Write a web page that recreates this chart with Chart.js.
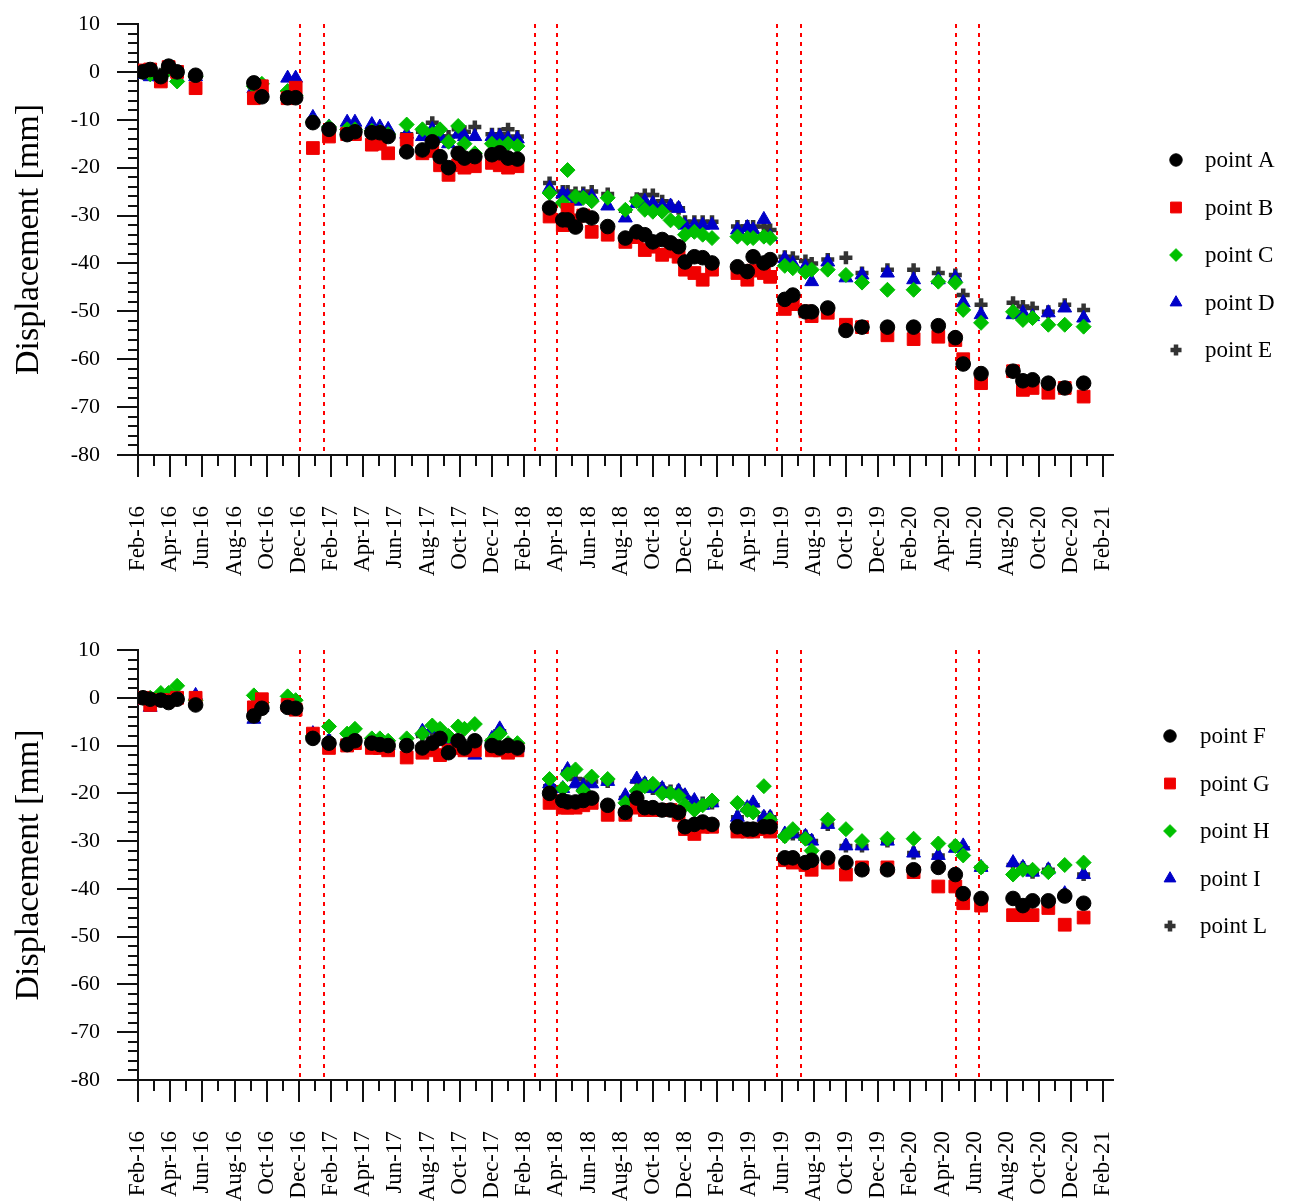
<!DOCTYPE html>
<html>
<head>
<meta charset="utf-8">
<title>Displacement time series</title>
<script src="https://cdn.jsdelivr.net/npm/chart.js@4/dist/chart.umd.min.js"></script>
<style>
  html, body { margin: 0; padding: 0; background: #ffffff; }
  .panel { position: relative; width: 1307px; }
  canvas { display: block; }
</style>
</head>
<body>
<div class="panel" style="height:600px"><canvas id="panelTop" width="1307" height="600"></canvas></div>
<div class="panel" style="height:601px"><canvas id="panelBottom" width="1307" height="601"></canvas></div>
<script>
// ---- survey epochs (shared by both panels) ----
const surveyDates = [
  '2016-02-10','2016-02-23','2016-03-14','2016-03-29','2016-04-14','2016-05-19',
  '2016-09-07','2016-09-22','2016-11-10','2016-11-25',
  '2016-12-28','2017-01-28','2017-03-01','2017-03-16','2017-04-17','2017-05-02','2017-05-18',
  '2017-06-22','2017-07-22','2017-08-10','2017-08-25','2017-09-10','2017-09-28','2017-10-10','2017-10-30',
  '2017-12-01','2017-12-16','2018-01-01','2018-01-19',
  '2018-03-19','2018-04-13','2018-04-22','2018-05-07','2018-05-22','2018-06-07','2018-07-07',
  '2018-08-10','2018-09-01','2018-09-16','2018-10-01','2018-10-19','2018-11-04','2018-11-19',
  '2018-12-01','2018-12-19','2019-01-04','2019-01-22',
  '2019-03-09','2019-03-28','2019-04-08','2019-04-28','2019-05-10',
  '2019-06-07','2019-06-22','2019-07-16','2019-07-28','2019-08-28','2019-10-01','2019-11-01','2019-12-19',
  '2020-02-07','2020-03-24','2020-04-25','2020-05-10','2020-06-13',
  '2020-08-13','2020-09-01','2020-09-19','2020-10-19','2020-11-19','2020-12-25'
];

// ---- upper panel: displacement [mm] ----
const pointA = [0,0.5,-1,1.2,0,-0.7, -2.3,-5.2,-5.4,-5.4, -10.6,-12,-13.1,-12.5,-12.7,-12.7,-13.5,
  -16.7,-16.3,-14.6,-17.7,-20,-17,-18,-17.7, -17.3,-16.9,-18,-18.2, -28.4,-30.9,-30.9,-32.4,-29.9,-30.5,-32.3,
  -34.7,-33.4,-34,-35.5,-35,-35.7,-36.5, -39.7,-38.6,-38.8,-39.9, -40.7,-41.7,-38.6,-39.9,-39.2,
  -47.5,-46.6,-50.1,-50.1,-49.3,-54,-53.3,-53.3, -53.3,-53,-55.5,-61,-63, -62.5,-64.5,-64.3,-65,-66,-65];
const pointB = [0.3,0.5,-2,1,0,-3.4, -5.5,-3,-5.5,-3.3, -15.9,-13.5,-13,-13,-15.2,-15,-17,
  -14.2,-17,-16.5,-19.5,-21.5,-19.5,-20,-19.7, -19,-19.5,-20,-19.7, -30.2,-32,-28.8,-31,-30,-33.4,-34,
  -35.5,-34.5,-37.2,-36.5,-38.2,-37.5,-38.6, -41.3,-42,-43.4,-41.3, -42,-43.4,-41.5,-42,-42.8,
  -49.5,-48.5,-50,-51,-50.3,-52.8,-53.3,-55, -55.8,-55.3,-56,-60,-65, -62.5,-66.4,-66,-67,-66,-67.8];
const pointC = [0,-0.5,-1,0.5,-2,-1, -3,-2.5,-4,-5, -10.5,-11.5,-12,-12,-12.3,-12.5,-13,
  -11,-12,-13,-12,-14.6,-11.3,-15,-17, -15,-15.5,-15,-15.5, -25.3,-27.3,-20.5,-26,-26.3,-27,-26.3,
  -28.8,-27,-28.8,-29.2,-29.2,-31,-31.3, -34,-33.4,-34,-34.7, -34.4,-34.7,-34.7,-34.4,-34.7,
  -40.5,-41,-41.8,-41.3,-41.3,-42.4,-44,-45.5, -45.5,-43.8,-44,-49.7,-52.4, -50.1,-51.8,-51.4,-52.8,-52.8,-53.2];
const pointD = [-0.5,-1,-1.2,0.5,-1.2,-1, -3.5,-4,-1.3,-1.3, -9.5,-11.5,-10.5,-10.5,-11,-11.5,-12,
  -13,-13.5,-12,-13.5,-15,-13,-13.5,-13.5, -13.5,-13.5,-14,-14, -24.3,-25.5,-26,-27,-26,-26,-28,
  -30.5,-27.5,-27,-27.5,-28,-28,-28.5, -32,-32,-32,-32, -33,-32.5,-33,-30.8,-34.4,
  -39,-40,-40.7,-43.8,-39.7,-43,-42.4,-42, -43.4,-43.4,-43,-48.2,-50.7, -50.7,-50.3,-51.1,-50.3,-49.3,-51.4];
const pointE = [0,0,-0.5,1,-0.5,-1, -3,-4.5,-4.5,-5, -10.5,-12,-12,-12,-12.5,-12.5,-13,
  -13,-12.5,-10.6,-13.5,-13.5,-12,-12.5,-11.5, -13,-13,-12,-13.5, -23.2,-25,-25,-25.3,-25.3,-25,-25.5,
  -29,-26.5,-25.7,-25.7,-27,-28,-28.5, -31.3,-31.3,-31.3,-31.3, -32.3,-32.3,-32.3,-32.3,-33,
  -38.6,-38.8,-39.5,-40,-39.2,-38.8,-42,-41.3, -41.3,-42,-42.4,-46.6,-48.6, -48.2,-49,-49.3,-50.1,-48.6,-49.7];

// ---- lower panel: displacement [mm] ----
const pointF = [0,-0.3,-0.5,-1,-0.3,-1.5, -3.8,-2.2,-2,-2.2, -8.5,-9.5,-9.8,-9,-9.5,-9.8,-10,
  -10,-10.5,-9.5,-8.5,-11.5,-9,-10.5,-9, -10,-10.5,-10,-10.5, -20,-21.5,-21.8,-21.8,-21.5,-21,-22.5,
  -24,-21,-23,-23,-23.5,-23.5,-24, -27,-26.5,-26,-26.5, -27,-27.5,-27.5,-27,-27,
  -33.5,-33.5,-34.5,-34,-33.5,-34.5,-36,-36, -36,-35.5,-37,-41,-42, -42,-43.5,-42.5,-42.5,-41.5,-43];
const pointG = [0,-1.5,-0.5,-0.5,0,0, -2,-0.3,-1.5,-2.5, -7.5,-10.5,-10,-9.5,-10.5,-10.5,-11,
  -12.5,-11.5,-11,-12,-11,-10.5,-11,-11, -11,-11,-11.5,-11, -22,-23,-23,-23,-22.5,-22,-24.5,
  -24.5,-23,-23.5,-23.5,-23.5,-23.5,-24.5, -27.5,-28.5,-27,-27, -28,-28,-28,-27.5,-28,
  -34,-34.5,-35,-36,-34.5,-37,-35.5,-35.5, -36.5,-39.5,-39.5,-43,-43.5, -45.5,-45.5,-45.5,-44,-47.5,-46];
const pointH = [0,0,1,1,2.5,-0.5, 0.5,-1,0.3,-0.5, -8,-6,-7.5,-6.5,-8.5,-8.5,-9,
  -8.5,-7.5,-5.8,-6.5,-8,-6,-6.5,-5.5, -9,-7.5,-9.5,-9.5, -17,-19,-16,-15,-19.5,-16.5,-17,
  -22,-19.5,-18.5,-18,-20,-20,-20.5, -22.5,-23.5,-22.5,-21.5, -22,-23.5,-24,-18.5,-25.5,
  -29,-27.5,-29.5,-32,-25.5,-27.5,-30,-29.5, -29.5,-30.5,-31,-33,-35.5, -37,-36,-36,-36.5,-35,-34.5];
const pointI = [-0.5,-2,0.5,0.5,0.5,0.5, -4.5,-2,-1,-1.5, -7.5,-9,-9,-8.5,-9,-9,-10,
  -9,-7,-6.5,-8,-10,-9.5,-11,-12, -8.5,-6.5,-10,-10.5, -18,-19,-15,-18,-18.5,-18,-17.5,
  -20.5,-17,-18,-19,-19,-20,-19.5, -20.5,-21.5,-22.5,-22, -25,-23,-22,-25,-25,
  -28.5,-28.5,-29,-30,-26.5,-31,-31,-30, -32.5,-33,-31.5,-31,-35.5, -34.5,-35.5,-36.5,-36,-41,-37];
const pointL = [0,-1,0,0,0.5,0, -3.5,-2,-1.5,-2, -8,-9,-9,-8.5,-9,-9.5,-10,
  -9.5,-8,-7,-8,-9.5,-9,-10,-10, -9,-7,-10,-10, -18.5,-19,-15.5,-17,-18,-17.5,-17.5,
  -21,-17.5,-18,-19,-19,-19.5,-19.5, -21,-22,-22,-22, -25,-23.5,-22.5,-25,-25,
  -29,-28.5,-29,-30,-26.5,-31,-31,-30, -32.5,-33,-31,-31.5,-35.5, -35,-35.5,-36.5,-36,-41.5,-37];

// dates of the dotted reference lines
const eventDates = ['2016-12-04','2017-01-18','2018-02-20','2018-04-03',
                    '2019-05-24','2019-07-08','2020-04-26','2020-06-10'];

// axis labels
const xTickLabels = ['Feb-16','Apr-16','Jun-16','Aug-16','Oct-16','Dec-16',
  'Feb-17','Apr-17','Jun-17','Aug-17','Oct-17','Dec-17',
  'Feb-18','Apr-18','Jun-18','Aug-18','Oct-18','Dec-18',
  'Feb-19','Apr-19','Jun-19','Aug-19','Oct-19','Dec-19',
  'Feb-20','Apr-20','Jun-20','Aug-20','Oct-20','Dec-20','Feb-21'];
const yAxisTitle = 'Displacement [mm]';
const upperNames = ['point A','point B','point C','point D','point E'];
const lowerNames = ['point F','point G','point H','point I','point L'];

// ---- helpers ----
const SERIF = "'Liberation Serif', 'Times New Roman', 'DejaVu Serif', serif";
const Y_MIN = -80, Y_MAX = 10;
const X_MIN = 0, X_MAX = 60.6, LAST_MONTH = 60;

// months elapsed since 1 Feb 2016 (fractional)
function monthIndex(iso) {
  const [y, m, d] = iso.split('-').map(Number);
  const days = new Date(y, m, 0).getDate();
  return (y - 2016) * 12 + (m - 2) + (d - 1) / days;
}

const markerStyles = [
  { pointStyle: 'circle',   radius: 7.3, color: '#000000', borderWidth: 1 },
  { pointStyle: 'rect',     radius: 9,   color: '#f00000', borderWidth: 1 },
  { pointStyle: 'rectRot',  radius: 7.5, color: '#00c000', borderWidth: 1 },
  { pointStyle: 'triangle', radius: 8,   color: '#0000c8', borderWidth: 1 },
  { pointStyle: 'cross',    radius: 6.5, color: '#333333', borderWidth: 4.5 }
];

const axisTicks = {
  id: 'axisTicks',
  afterDraw(chart) {
    const { ctx, chartArea, scales: { x, y } } = chart;
    ctx.save();
    ctx.strokeStyle = '#111111';
    ctx.lineWidth = 2;
    ctx.beginPath();
    for (let v = Y_MIN; v <= Y_MAX; v += 2) {
      const py = Math.round(y.getPixelForValue(v));
      const len = v % 10 === 0 ? 21 : 10;
      ctx.moveTo(chartArea.left - len, py);
      ctx.lineTo(chartArea.left, py);
    }
    for (let m = 0; m <= LAST_MONTH; m++) {
      const px = Math.round(x.getPixelForValue(m));
      const len = m % 2 === 0 ? 22 : 11;
      ctx.moveTo(px, chartArea.bottom);
      ctx.lineTo(px, chartArea.bottom + len);
    }
    ctx.stroke();
    ctx.restore();
  }
};

const eventLines = {
  id: 'eventLines',
  beforeDatasetsDraw(chart) {
    const { ctx, chartArea, scales: { x } } = chart;
    ctx.save();
    ctx.strokeStyle = '#ff0000';
    ctx.lineWidth = 2;
    ctx.setLineDash([4, 5]);
    eventDates.forEach(d => {
      const px = Math.round(x.getPixelForValue(monthIndex(d)));
      ctx.beginPath();
      ctx.moveTo(px, chartArea.top);
      ctx.lineTo(px, chartArea.bottom);
      ctx.stroke();
    });
    ctx.restore();
  }
};

const sideLegend = {
  id: 'sideLegend',
  afterDraw(chart, args, opts) {
    const { ctx } = chart;
    ctx.save();
    ctx.font = opts.fontSize + 'px ' + SERIF;
    ctx.textBaseline = 'middle';
    ctx.textAlign = 'left';
    chart.data.datasets.forEach((ds, i) => {
      const st = markerStyles[i];
      const cy = opts.y + i * opts.step;
      ctx.fillStyle = st.color;
      ctx.strokeStyle = st.color;
      ctx.lineWidth = st.borderWidth;
      Chart.helpers.drawPoint(ctx, {
        pointStyle: st.pointStyle, radius: st.radius * 0.85,
        rotation: 0, borderWidth: st.borderWidth
      }, opts.markerX, cy);
      ctx.fillStyle = '#000000';
      ctx.fillText(ds.label, opts.textX, cy + 1);
    });
    ctx.restore();
  }
};

function buildPanel(canvasId, names, series, frame) {
  const datasets = series.map((vals, i) => {
    const st = markerStyles[i];
    return {
      label: names[i],
      data: surveyDates.map((d, k) => ({ x: monthIndex(d), y: vals[k] })),
      showLine: false,
      pointStyle: st.pointStyle,
      pointRadius: st.radius,
      pointHoverRadius: st.radius,
      backgroundColor: st.color,
      borderColor: st.color,
      pointBorderWidth: st.borderWidth,
      borderWidth: st.borderWidth
    };
  });

  return new Chart(document.getElementById(canvasId), {
    type: 'scatter',
    data: { datasets },
    plugins: [eventLines, axisTicks, sideLegend],
    options: {
      responsive: false,
      animation: false,
      devicePixelRatio: 1,
      layout: { padding: { left: 0, right: frame.right, top: frame.top, bottom: 0 } },
      plugins: {
        legend: { display: false },
        tooltip: { enabled: false },
        sideLegend: frame.legend
      },
      scales: {
        x: {
          type: 'linear',
          min: X_MIN,
          max: X_MAX,
          afterBuildTicks(scale) {
            scale.ticks = Array.from({ length: LAST_MONTH + 1 }, (_, m) => ({ value: m }));
          },
          afterFit(scale) {
            scale.height = frame.axisHeight;
            scale.paddingLeft = 0;
            scale.paddingRight = 0;
          },
          ticks: {
            autoSkip: false,
            minRotation: 90,
            maxRotation: 90,
            padding: 51,
            color: '#000000',
            font: { family: SERIF, size: 23 },
            callback: v => (v % 2 === 0 ? xTickLabels[v / 2] : '')
          },
          grid: { drawOnChartArea: false, drawTicks: false, color: 'rgba(0,0,0,0)' },
          border: { display: true, color: '#111111', width: 2 }
        },
        y: {
          min: Y_MIN,
          max: Y_MAX,
          afterFit(scale) {
            scale.width = 138;
            scale.paddingTop = 0;
            scale.paddingBottom = 0;
          },
          ticks: {
            stepSize: 10,
            padding: 38,
            color: '#000000',
            font: { family: SERIF, size: 22 }
          },
          title: {
            display: true,
            text: yAxisTitle,
            color: '#000000',
            font: { family: SERIF, size: 34 },
            padding: { top: 9, bottom: 0 }
          },
          grid: { drawOnChartArea: false, drawTicks: false, color: 'rgba(0,0,0,0)' },
          border: { display: true, color: '#111111', width: 2 }
        }
      }
    }
  });
}

buildPanel('panelTop', upperNames, [pointA, pointB, pointC, pointD, pointE], {
  top: 24, right: 194, axisHeight: 145,
  legend: { markerX: 1176, textX: 1205, y: 160, step: 47.5, fontSize: 23 }
});
buildPanel('panelBottom', lowerNames, [pointF, pointG, pointH, pointI, pointL], {
  top: 50, right: 194, axisHeight: 121,
  legend: { markerX: 1170, textX: 1200, y: 136, step: 47.5, fontSize: 23 }
});
</script>
</body>
</html>
